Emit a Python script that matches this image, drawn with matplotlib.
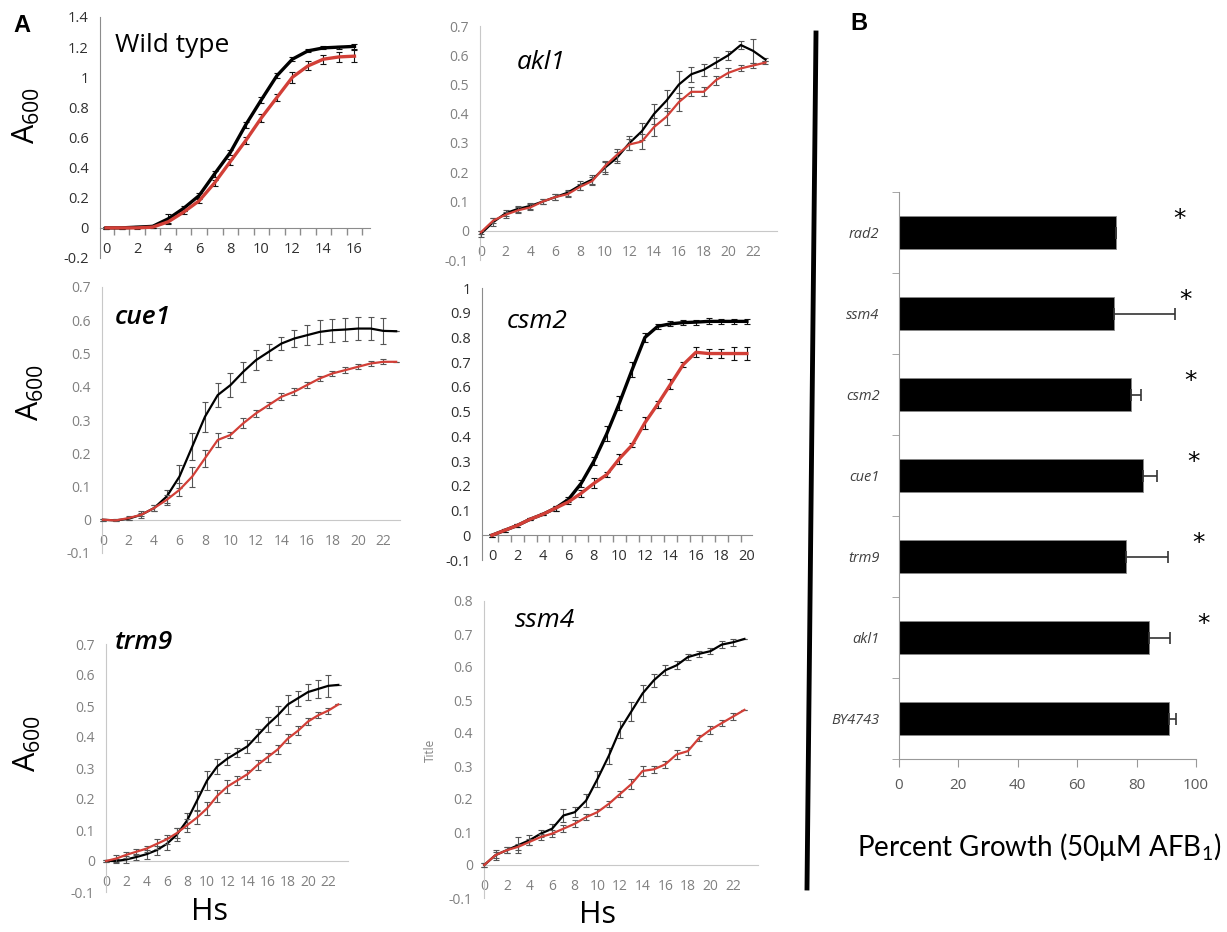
import numpy as np
import matplotlib
matplotlib.use("Agg")
import matplotlib.pyplot as plt
from matplotlib.lines import Line2D

W, H = 1227, 932
plt.rcParams['font.family'] = ['Open Sans', 'DejaVu Sans']
RED = "#d23f37"

# ---- growth curves (A600 vs hours) ----
hours_wt = list(range(17))
wt_black = [0, 0, 0.005, 0.01, 0.06, 0.13, 0.215, 0.36, 0.50, 0.685, 0.85, 1.01, 1.12, 1.175, 1.195, 1.20, 1.205]
wt_black_err = [0.005, 0.005, 0.005, 0.01, 0.035, 0.015, 0.015, 0.02, 0.015, 0.02, 0.02, 0.015, 0.015, 0.01, 0.01, 0.01, 0.015]
wt_red = [0, 0, 0, 0.005, 0.04, 0.105, 0.18, 0.30, 0.44, 0.58, 0.73, 0.865, 1.0, 1.075, 1.12, 1.135, 1.14]
wt_red_err = [0.005, 0.005, 0.005, 0.005, 0.01, 0.01, 0.015, 0.02, 0.02, 0.025, 0.025, 0.025, 0.035, 0.03, 0.03, 0.035, 0.04]

hours_24 = list(range(24))
akl1_black = [-0.01, 0.03, 0.06, 0.075, 0.085, 0.10, 0.115, 0.13, 0.155, 0.175, 0.215, 0.25,
              0.30, 0.34, 0.40, 0.445, 0.50, 0.535, 0.55, 0.575, 0.60, 0.635, 0.615, 0.585]
akl1_black_err = [0.01, 0.015, 0.01, 0.01, 0.01, 0.01, 0.01, 0.01, 0.015, 0.015, 0.02, 0.02,
                  0.025, 0.03, 0.035, 0.035, 0.045, 0.025, 0.02, 0.02, 0.015, 0.015, 0.04, 0.005]
akl1_red = [-0.005, 0.035, 0.055, 0.07, 0.08, 0.10, 0.115, 0.125, 0.15, 0.17, 0.22, 0.26,
            0.295, 0.305, 0.355, 0.39, 0.44, 0.475, 0.475, 0.515, 0.54, 0.555, 0.565, 0.575]
akl1_red_err = [0.005, 0.01, 0.01, 0.01, 0.01, 0.01, 0.01, 0.01, 0.01, 0.015, 0.02, 0.02,
                0.02, 0.025, 0.03, 0.03, 0.03, 0.015, 0.015, 0.015, 0.015, 0.01, 0.01, 0.005]

cue1_black = [0, -0.002, 0.003, 0.015, 0.035, 0.07, 0.13, 0.22, 0.31, 0.375, 0.405, 0.445,
              0.48, 0.505, 0.53, 0.545, 0.555, 0.565, 0.57, 0.572, 0.575, 0.575, 0.568, 0.567]
cue1_black_err = [0.003, 0.003, 0.005, 0.01, 0.01, 0.02, 0.035, 0.04, 0.045, 0.035, 0.035, 0.03,
                  0.03, 0.025, 0.02, 0.025, 0.03, 0.035, 0.035, 0.035, 0.035, 0.035, 0.04, 0.0]
cue1_red = [0, -0.002, 0.005, 0.015, 0.035, 0.06, 0.09, 0.13, 0.185, 0.24, 0.255, 0.29,
            0.32, 0.345, 0.37, 0.385, 0.405, 0.425, 0.44, 0.45, 0.46, 0.47, 0.475, 0.475]
cue1_red_err = [0.003, 0.003, 0.005, 0.005, 0.01, 0.015, 0.02, 0.03, 0.025, 0.02, 0.01, 0.015,
                0.01, 0.01, 0.01, 0.01, 0.01, 0.008, 0.008, 0.008, 0.008, 0.008, 0.008, 0.0]

hours_21 = list(range(21))
csm2_black = [0, 0.02, 0.04, 0.065, 0.085, 0.11, 0.145, 0.21, 0.30, 0.41, 0.535, 0.67,
              0.80, 0.845, 0.855, 0.86, 0.862, 0.865, 0.865, 0.865, 0.865]
csm2_black_err = [0.005, 0.005, 0.005, 0.005, 0.005, 0.01, 0.01, 0.015, 0.015, 0.03, 0.03, 0.03,
                  0.02, 0.01, 0.01, 0.01, 0.01, 0.012, 0.01, 0.01, 0.01]
csm2_red = [0, 0.02, 0.04, 0.065, 0.085, 0.11, 0.135, 0.17, 0.21, 0.245, 0.31, 0.365,
            0.455, 0.53, 0.61, 0.69, 0.74, 0.735, 0.735, 0.735, 0.735]
csm2_red_err = [0.005, 0.005, 0.005, 0.005, 0.005, 0.01, 0.01, 0.015, 0.02, 0.01, 0.02, 0.01,
                0.025, 0.015, 0.02, 0.01, 0.02, 0.02, 0.02, 0.025, 0.025]

trm9_black = [0, 0, 0.005, 0.013, 0.022, 0.035, 0.055, 0.085, 0.13, 0.195, 0.26, 0.305,
              0.33, 0.35, 0.37, 0.405, 0.44, 0.47, 0.505, 0.525, 0.545, 0.555, 0.565, 0.568]
trm9_black_err = [0.003, 0.005, 0.01, 0.01, 0.015, 0.015, 0.02, 0.02, 0.025, 0.03, 0.03, 0.025,
                  0.02, 0.015, 0.02, 0.02, 0.025, 0.03, 0.03, 0.025, 0.025, 0.03, 0.035, 0.0]
trm9_red = [0, 0.008, 0.02, 0.03, 0.04, 0.055, 0.07, 0.09, 0.115, 0.14, 0.17, 0.21,
            0.24, 0.26, 0.28, 0.31, 0.335, 0.36, 0.395, 0.42, 0.45, 0.47, 0.485, 0.505]
trm9_red_err = [0.003, 0.01, 0.01, 0.01, 0.01, 0.015, 0.015, 0.015, 0.02, 0.02, 0.02, 0.02,
                0.02, 0.015, 0.015, 0.015, 0.015, 0.015, 0.015, 0.015, 0.01, 0.01, 0.01, 0.0]

ssm4_black = [0, 0.03, 0.045, 0.06, 0.075, 0.095, 0.11, 0.15, 0.16, 0.195, 0.26, 0.33,
              0.41, 0.465, 0.52, 0.56, 0.59, 0.605, 0.63, 0.64, 0.648, 0.668, 0.675, 0.685]
ssm4_black_err = [0.005, 0.015, 0.01, 0.025, 0.015, 0.01, 0.015, 0.02, 0.015, 0.02, 0.025, 0.025,
                  0.025, 0.03, 0.025, 0.02, 0.015, 0.012, 0.01, 0.01, 0.01, 0.01, 0.01, 0.0]
ssm4_red = [0, 0.03, 0.045, 0.055, 0.07, 0.085, 0.095, 0.11, 0.125, 0.145, 0.16, 0.185,
            0.215, 0.245, 0.285, 0.29, 0.305, 0.335, 0.345, 0.385, 0.41, 0.43, 0.45, 0.47]
ssm4_red_err = [0.005, 0.01, 0.01, 0.01, 0.01, 0.01, 0.01, 0.01, 0.01, 0.01, 0.01, 0.01,
                0.01, 0.015, 0.015, 0.01, 0.01, 0.015, 0.012, 0.01, 0.012, 0.01, 0.012, 0.0]

# ---- panel B ----
strains = ["BY4743", "akl1", "trm9", "cue1", "csm2", "ssm4", "rad2"]
growth = [90.8, 84.2, 76.4, 82.0, 78.0, 72.4, 73.0]
growth_err = [2.6, 7.0, 14.2, 5.0, 3.5, 20.6, 0.0]
significant = [False, True, True, True, True, True, True]
star_x = [0, 102.4, 101.0, 99.3, 98.0, 96.3, 94.3]


def px_axes(fig, left, right, top, bottom):
    return fig.add_axes([left / W, 1 - bottom / H, (right - left) / W, (bottom - top) / H])


def fmt_tick(v, pos):
    v = round(v, 2)
    if v == 0:
        return "0"
    return f"{v:g}"


def growth_panel(fig, box, xlim, ylim, ystep, hours, black, black_err, red, red_err,
                 title, title_style, lw=1.6, dark=False, marks=False, fs=10):
    ax = px_axes(fig, *box)
    axis_col = "#8c8c8c" if dark else "#c8c8c8"
    lab_col = "#303030" if dark else "#808080"
    err_col = "#111111" if dark else "#555555"
    ax.errorbar(hours, black, yerr=black_err, color="black", lw=lw, ecolor=err_col,
                elinewidth=0.8, capsize=2.5, capthick=0.8, zorder=3, clip_on=False)
    ax.errorbar(hours, red, yerr=red_err, color=RED, lw=lw, ecolor=err_col,
                elinewidth=0.8, capsize=2.5, capthick=0.8, zorder=4, clip_on=False)
    ax.set_xlim(xlim)
    ax.set_ylim(ylim)
    for s in ["top", "right"]:
        ax.spines[s].set_visible(False)
    ax.spines["bottom"].set_position(("data", 0))
    ax.spines["left"].set_color(axis_col)
    ax.spines["bottom"].set_color(axis_col)
    ax.set_yticks(np.arange(ylim[0], ylim[1] + ystep / 2, ystep))
    ax.yaxis.set_major_formatter(fmt_tick)
    ax.set_xticks(range(0, max(hours) + 1, 2))
    ax.tick_params(axis="y", length=0, pad=8, labelsize=fs, labelcolor=lab_col)
    ax.tick_params(axis="x", length=0, pad=10, labelsize=fs, labelcolor=lab_col)
    if marks:
        ax.set_xticks(np.arange(0.5, xlim[1], 1), minor=True)
        ax.tick_params(axis="x", which="minor", length=5, color=axis_col, width=1)
    ax.patch.set_alpha(0)
    ax.text(title[1], title[2], title[0], transform=ax.transAxes, fontsize=19,
            ha="left", va="center", **title_style)
    return ax


fig = plt.figure(figsize=(W / 100, H / 100), dpi=100)

italic = {"style": "italic"}
bold_italic = {"style": "italic", "weight": "semibold"}

growth_panel(fig, (100, 370, 17, 258), (-0.39, 17.0), (-0.2, 1.4), 0.2, hours_wt,
             wt_black, wt_black_err, wt_red, wt_red_err, ("Wild type", 0.055, 0.88), {},
             lw=2.4, dark=True, marks=True, fs=10.5)
growth_panel(fig, (480, 777, 26, 260), (-0.08, 23.93), (-0.1, 0.7), 0.1, hours_24,
             akl1_black, akl1_black_err, akl1_red, akl1_red_err, ("akl1", 0.125, 0.846), italic)
growth_panel(fig, (102, 400, 287, 553), (-0.08, 23.3), (-0.1, 0.7), 0.1, hours_24,
             cue1_black, cue1_black_err, cue1_red, cue1_red_err, ("cue1", 0.044, 0.886), bold_italic)
growth_panel(fig, (482, 752, 288, 560), (-0.78, 20.4), (-0.1, 1.0), 0.1, hours_21,
             csm2_black, csm2_black_err, csm2_red, csm2_red_err, ("csm2", 0.093, 0.875), italic,
             lw=2.4, dark=True, marks=True, fs=10.5)
growth_panel(fig, (106, 348, 644, 892), (-0.02, 23.96), (-0.1, 0.7), 0.1, hours_24,
             trm9_black, trm9_black_err, trm9_red, trm9_red_err, ("trm9", 0.037, 1.008), bold_italic)
growth_panel(fig, (484, 758, 601, 898), (-0.02, 24.2), (-0.1, 0.8), 0.1, hours_24,
             ssm4_black, ssm4_black_err, ssm4_red, ssm4_red_err, ("ssm4", 0.113, 0.936), italic)

# axis titles of panel A
a600 = r"$\mathregular{A_{600}}$"
for cx, cy in [(26, 115), (30, 392), (27, 743)]:
    fig.text(cx / W, 1 - cy / H, a600, rotation=90, ha="center", va="center", fontsize=22)
for cx, cy in [(210, 912), (598, 915)]:
    fig.text(cx / W, 1 - cy / H, "Hs", ha="center", va="center", fontsize=22)
fig.text(430 / W, 1 - 750 / H, "Title", rotation=90, ha="center", va="center",
         fontsize=8.5, color="#808080")
fig.text(22 / W, 1 - 25 / H, "A", ha="center", va="center", fontsize=17, weight="bold",
         family=["Liberation Sans", "DejaVu Sans"])
fig.text(859 / W, 1 - 23 / H, "B", ha="center", va="center", fontsize=17, weight="bold",
         family=["Liberation Sans", "DejaVu Sans"])

# divider between panels
fig.add_artist(Line2D([816 / W, 807 / W], [1 - 33 / H, 1 - 888 / H], color="black", lw=3.5,
                      transform=fig.transFigure))

# ---- panel B: bar chart ----
axb = px_axes(fig, 899, 1196, 192, 759)
ypos = np.arange(len(strains))
axb.barh(ypos, growth, height=0.4, color="black", edgecolor="#888888", lw=0.6, zorder=2)
axb.errorbar(growth, ypos, xerr=[np.zeros(len(growth)), growth_err], fmt="none",
             ecolor="#333333", elinewidth=1.2, capsize=4, capthick=1.2, zorder=3)
for y, sx, sig in zip(ypos, star_x, significant):
    if sig:
        axb.text(sx, y + 0.17, "*", ha="center", va="center", fontsize=18,
                 family=["DejaVu Sans"], clip_on=False)
axb.set_xlim(0, 100)
axb.set_ylim(-0.5, len(strains) - 0.5)
axb.set_yticks(ypos)
axb.set_yticklabels(strains, style="italic")
axb.set_yticks(np.arange(-0.5, len(strains), 1), minor=True)
axb.set_xticks(range(0, 101, 20))
for s in ["top", "right"]:
    axb.spines[s].set_visible(False)
for s in ["left", "bottom"]:
    axb.spines[s].set_color("#999999")
axb.tick_params(axis="y", which="major", length=0, pad=14, labelsize=10.5, labelcolor="#404040")
axb.tick_params(axis="y", which="minor", length=5, color="#999999")
axb.tick_params(axis="x", length=6, color="#999999", pad=8, labelsize=11, labelcolor="#595959")
fig.text(1039 / W, 1 - 847 / H, r"Percent Growth (50μM AFB$\mathregular{_1}$)", ha="center",
         va="center", fontsize=20, family=["Lato", "DejaVu Sans"])

fig.savefig("out.png", dpi=100)
